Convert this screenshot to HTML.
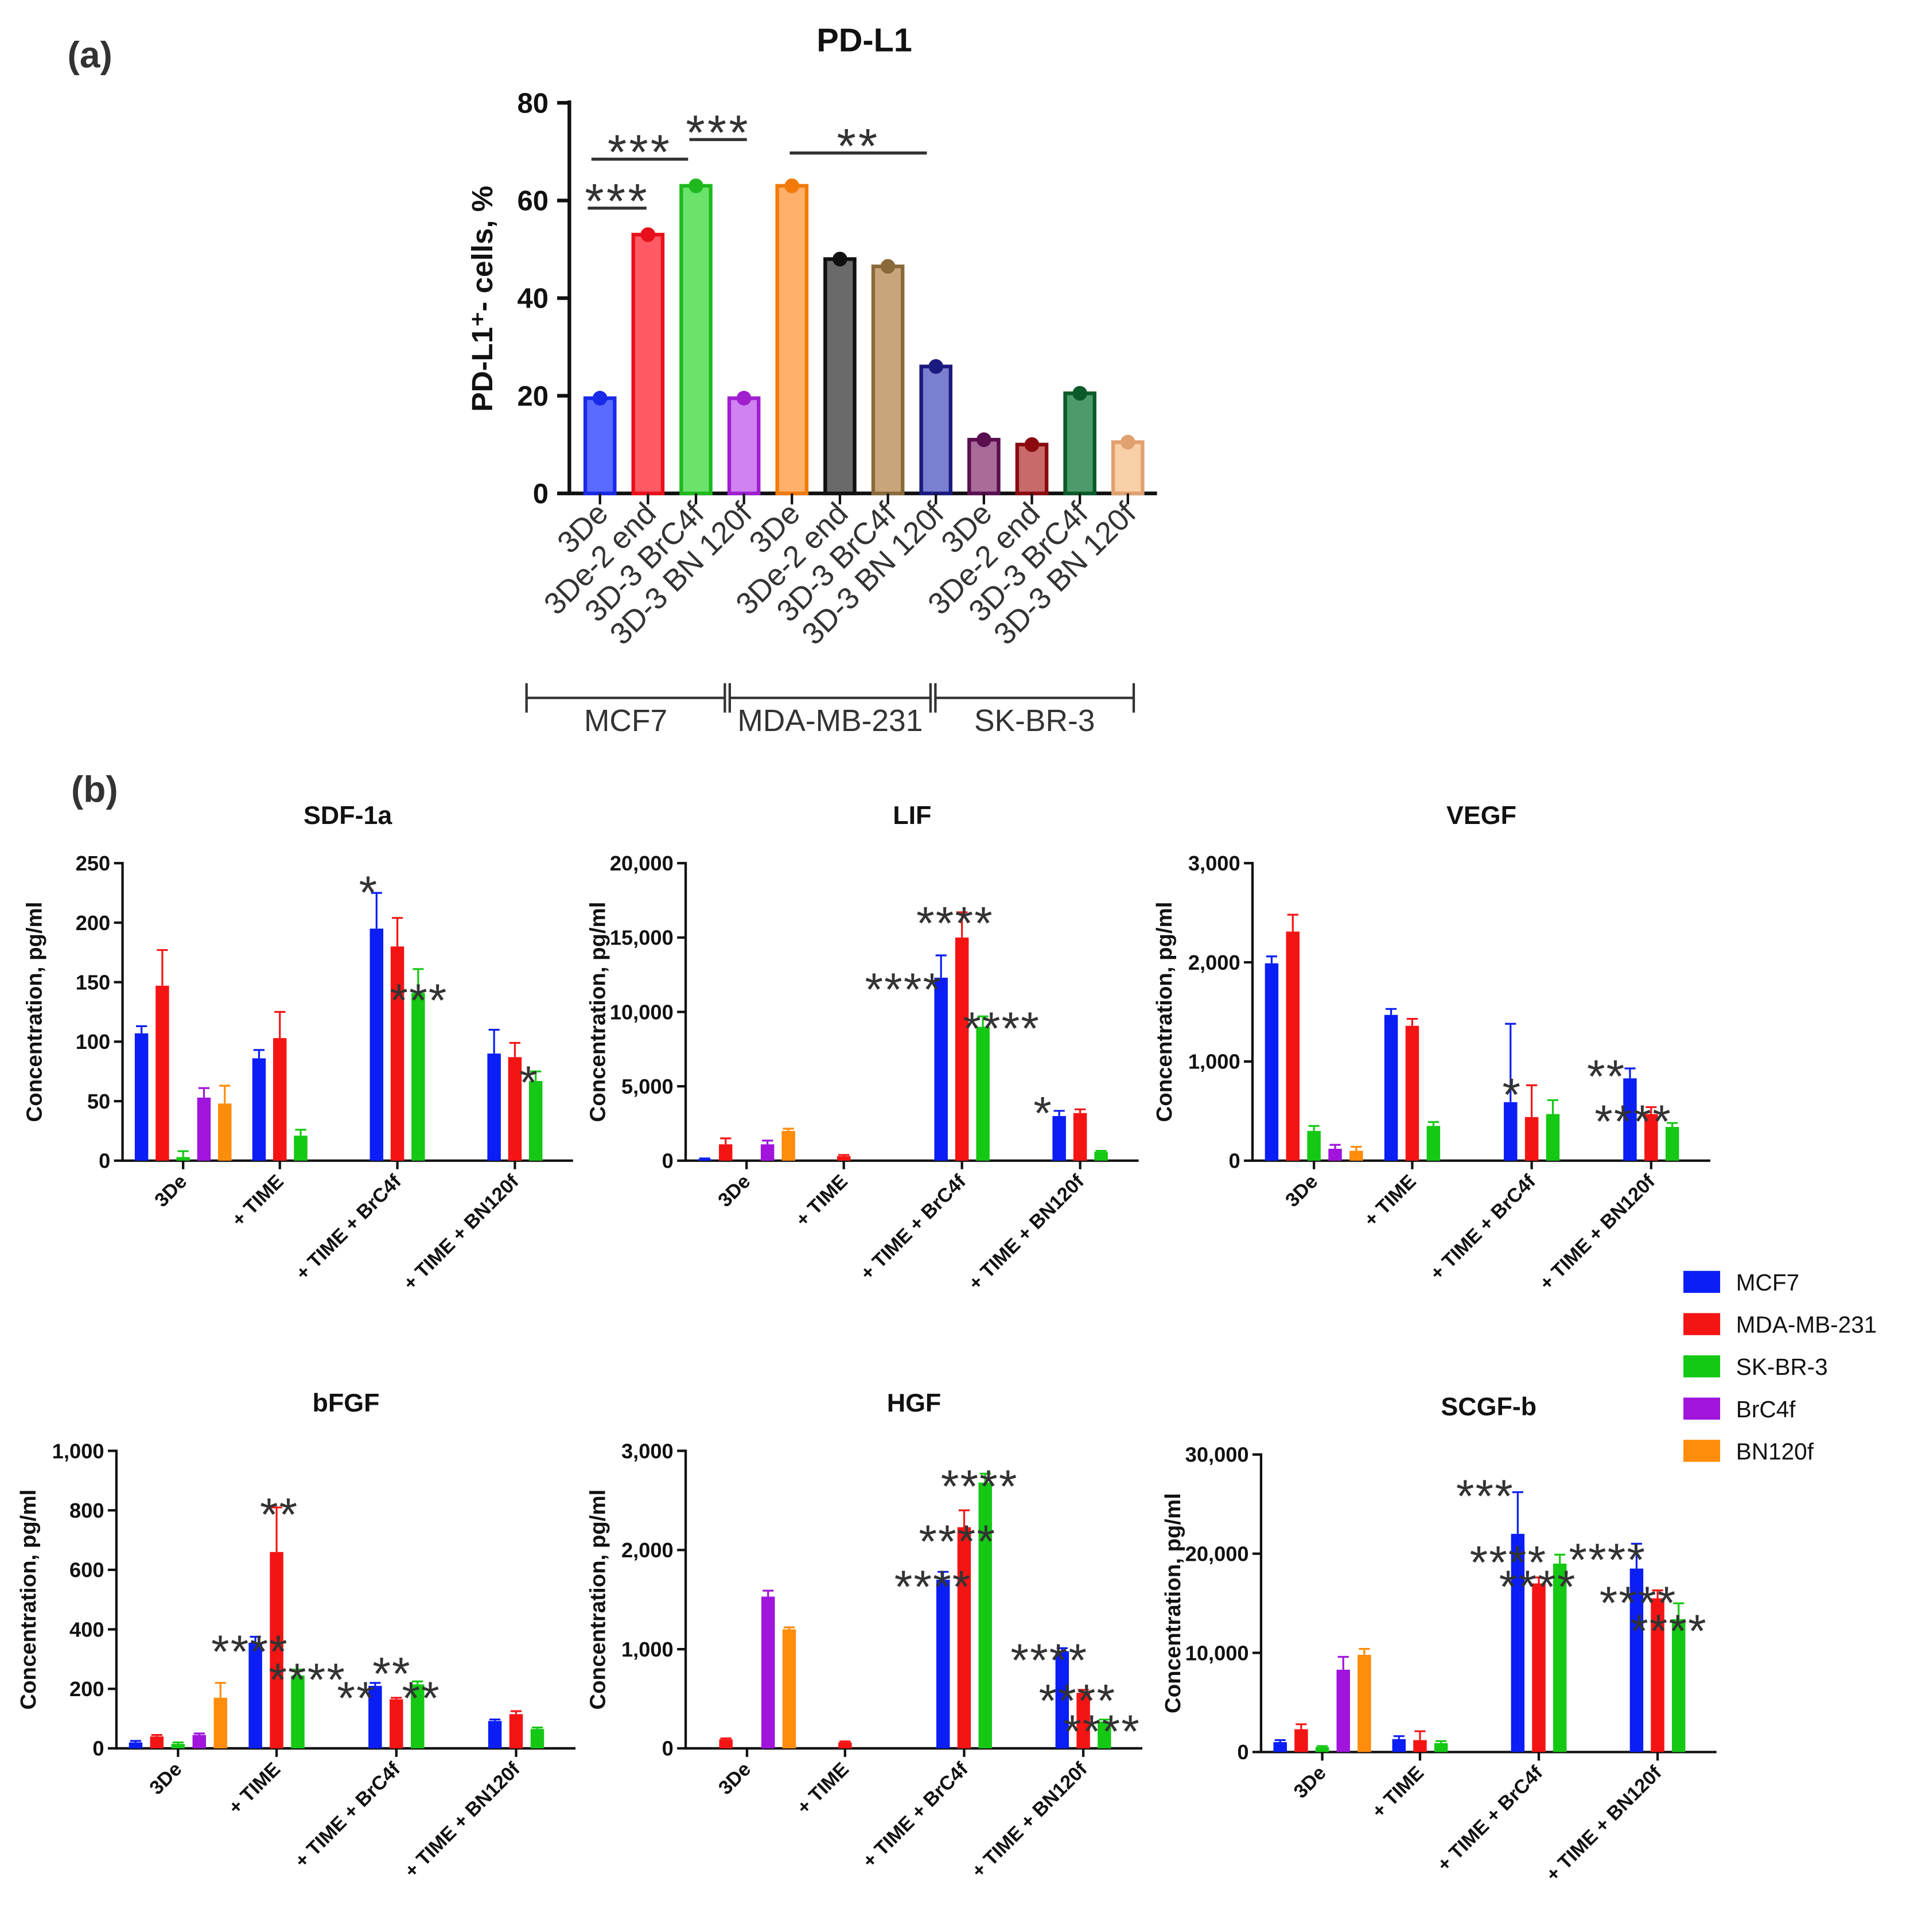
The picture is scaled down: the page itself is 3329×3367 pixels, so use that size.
<!DOCTYPE html>
<html><head><meta charset="utf-8"><style>
html,body{margin:0;padding:0;background:#fff}
svg{display:block}
text{font-family:"Liberation Sans",Arial,sans-serif}
</style></head><body>
<svg id="fig" width="3329" height="3367" viewBox="0 0 1560 1578" xmlns="http://www.w3.org/2000/svg">
<rect width="1560" height="1578" fill="#fff"/>
<text x="55" y="55" font-size="30" font-weight="bold" fill="#333">(a)</text>
<text x="58" y="655" font-size="30" font-weight="bold" fill="#333">(b)</text>
<g id="pa"></g>
<g id="pb"></g>
</svg>
<script>
const NS="http://www.w3.org/2000/svg";
function el(tag,attrs,parent,txt){const e=document.createElementNS(NS,tag);for(const k in attrs)e.setAttribute(k,attrs[k]);if(txt!==undefined)e.textContent=txt;parent.appendChild(e);return e;}
// ---- Panel (a) data ----
const pdCategories=["3De","3De-2 end","3D-3 BrC4f","3D-3 BN 120f","3De","3De-2 end","3D-3 BrC4f","3D-3 BN 120f","3De","3De-2 end","3D-3 BrC4f","3D-3 BN 120f"];
const pdValues=[19.5,53,63,19.5,63,48,46.5,26,11,10,20.5,10.5];
const pdTicks=[0,20,40,60,80];
const pdGroups=["MCF7","MDA-MB-231","SK-BR-3"];
const pdFill=["#5a6cff","#ff5a64","#6be36b","#d083f0","#ffb06a","#6a6a6a","#c9a57c","#7b7fcf","#a96b99","#c96a6a","#4d9a6a","#f8cfa6"];
const pdStroke=["#1a2ae8","#e8101c","#1fb81f","#a020d0","#f27a0a","#111","#8a6a3a","#1a1a80","#5a1050","#8a0a10","#0a5a2a","#e0a070"];
const pa=document.getElementById('pa');
const ay=v=>403-v*(403-84)/80, ax=i=>490+i*39.2;
el('text',{x:706,y:42,'font-size':27,'font-weight':'bold','text-anchor':'middle',fill:'#111'},pa,'PD-L1');
el('line',{x1:465,y1:82,x2:465,y2:404,stroke:'#111','stroke-width':3},pa);
el('line',{x1:464,y1:403,x2:945,y2:403,stroke:'#111','stroke-width':3},pa);
pdTicks.forEach(t=>{el('line',{x1:455,y1:ay(t),x2:465,y2:ay(t),stroke:'#111','stroke-width':3},pa);
 const tx=el('text',{x:448,y:ay(t)+8,'font-size':23,'font-weight':'bold','text-anchor':'end',fill:'#111'},pa,t);});
const yt=el('text',{transform:'translate(402,244) rotate(-90)','font-size':24,'font-weight':'bold','text-anchor':'middle',fill:'#111'},pa,'PD-L1⁺- cells, %');

pdValues.forEach((v,i)=>{const x=ax(i);
 const b=el('rect',{x:x-12,y:ay(v),width:24,height:403-ay(v),fill:pdFill[i],stroke:pdStroke[i],'stroke-width':3},pa);
 
 el('circle',{cx:x,cy:ay(v),r:6,fill:pdStroke[i]},pa);
 el('line',{x1:x,y1:403,x2:x,y2:412,stroke:'#111','stroke-width':2},pa);
 const l=el('text',{transform:`translate(${x+8},421) rotate(-45)`,'font-size':25,'text-anchor':'end',fill:'#333'},pa,pdCategories[i]);
 });
[[430,592],[596,760],[764,926]].forEach((r,i)=>{el('line',{x1:r[0],y1:570,x2:r[1],y2:570,stroke:'#333','stroke-width':2},pa);
 el('line',{x1:r[0],y1:558,x2:r[0],y2:582,stroke:'#333','stroke-width':2},pa);el('line',{x1:r[1],y1:558,x2:r[1],y2:582,stroke:'#333','stroke-width':2},pa);
 const g=el('text',{x:(r[0]+r[1])/2,y:597,'font-size':25,'text-anchor':'middle',fill:'#333'},pa,pdGroups[i]);});
[[480,528,170,'***'],[483,562,130,'***'],[563,610,114,'***'],[645,757,125,'**']].forEach(s=>{
 el('line',{x1:s[0],y1:s[2],x2:s[1],y2:s[2],stroke:'#333','stroke-width':2.5},pa);
 const t=el('text',{x:(s[0]+s[1])/2,y:s[2]+8,'font-size':40,'letter-spacing':2,'text-anchor':'middle',fill:'#333'},pa,s[3]);});
// ---- Panel (b) data ----
const groupLabels=["3De","+ TIME","+ TIME + BrC4f","+ TIME + BN120f"];
const seriesColors=["#0a1ef5","#f51414","#14c814","#a014dc","#ff8c0a"];
const seriesNames=["MCF7","MDA-MB-231","SK-BR-3","BrC4f","BN120f"];
const sdfValues=[[107,147,3,53,48],[86,103,21],[195,180,141],[90,87,67]];
const sdfErr=[[6,30,5,8,15],[7,22,5],[30,24,20],[20,12,8]];
const lifValues=[[100,1100,0,1100,2000],[0,300,0],[12300,15000,9000],[3000,3200,600]];
const lifErr=[[50,400,0,250,150],[0,80,0],[1500,1700,700],[350,250,60]];
const vegfValues=[[1990,2310,300,120,100],[1470,1360,350],[590,440,470],[830,470,340]];
const vegfErr=[[70,170,50,40,40],[60,70,40],[790,320,140],[100,70,40]];
const bfgfValues=[[20,40,15,45,170],[355,660,245],[210,165,215],[92,115,65]];
const bfgfErr=[[5,5,5,5,50],[20,150,20],[10,5,10],[5,10,5]];
const hgfValues=[[0,90,0,1530,1200],[0,60,0],[1700,2230,2680],[980,560,270]];
const hgfErr=[[0,10,0,60,20],[0,10,0],[80,170,90],[30,30,20]];
const scgfValues=[[1000,2300,500,8300,9800],[1300,1200,900],[22000,17000,19000],[18500,15500,13400]];
const scgfErr=[[200,500,100,1300,600],[300,900,200],[4200,600,900],[2500,800,1600]];
const sdfTicks=[0,50,100,150,200,250];
const lifTicks=[0,5000,10000,15000,20000];
const vegfTicks=[0,1000,2000,3000];
const bfgfTicks=[0,200,400,600,800,1000];
const hgfTicks=[0,1000,2000,3000];
const scgfTicks=[0,10000,20000,30000];
const charts=[
 {name:'sdf-1a',title:'SDF-1a',ax:100,xe:468,y0:948,yt:705,vals:sdfValues,err:sdfErr,ticks:sdfTicks,
  stars:[[301,725,'*'],[342,813,'***'],[432,880,'*']]},
 {name:'lif',title:'LIF',ax:560,xe:930,y0:948,yt:705,vals:lifValues,err:lifErr,ticks:lifTicks,
  stars:[[780,750,'****'],[738,804,'****'],[818,836,'****'],[852,905,'*']]},
 {name:'vegf',title:'VEGF',ax:1023,xe:1397,y0:948,yt:705,vals:vegfValues,err:vegfErr,ticks:vegfTicks,
  stars:[[1235,890,'*'],[1312,875,'**'],[1334,912,'****']]},
 {name:'bfgf',title:'bFGF',ax:95,xe:470,y0:1428,yt:1185,vals:bfgfValues,err:bfgfErr,ticks:bfgfTicks,
  stars:[[228,1233,'**'],[204,1345,'****'],[251,1368,'****'],[320,1363,'**'],[291,1383,'**'],[344,1383,'**']]},
 {name:'hgf',title:'HGF',ax:560,xe:933,y0:1428,yt:1185,vals:hgfValues,err:hgfErr,ticks:hgfTicks,
  stars:[[800,1210,'****'],[782,1255,'****'],[762,1292,'****'],[857,1352,'****'],[880,1385,'****'],[900,1410,'****']]},
 {name:'scgf-b',title:'SCGF-b',ax:1030,xe:1402,y0:1431,yt:1188,vals:scgfValues,err:scgfErr,ticks:scgfTicks,
  stars:[[1213,1218,'***'],[1232,1272,'****'],[1313,1270,'****'],[1256,1292,'****'],[1338,1305,'****'],[1363,1328,'****']]}
];
const pb=document.getElementById('pb');
function fmt(n){return n.toLocaleString('en-US');}
charts.forEach(c=>{
 const g=el('g',{},pb);
 const max=c.ticks[c.ticks.length-1];const sy=v=>c.y0-v*(c.y0-c.yt)/max;const sc=(c.xe-c.ax)/368;
 const t=el('text',{x:(c.ax+c.xe)/2,y:c.yt-32,'font-size':21,'font-weight':'bold','text-anchor':'middle',fill:'#111'},g,c.title);
 
 el('line',{x1:c.ax,y1:c.yt-1,x2:c.ax,y2:c.y0+1,stroke:'#111','stroke-width':2},g);
 el('line',{x1:c.ax,y1:c.y0,x2:c.xe,y2:c.y0,stroke:'#111','stroke-width':2},g);
 c.ticks.forEach(tk=>{el('line',{x1:c.ax-7,y1:sy(tk),x2:c.ax,y2:sy(tk),stroke:'#111','stroke-width':2},g);
  const l=el('text',{x:c.ax-10,y:sy(tk)+6,'font-size':17,'font-weight':'bold','text-anchor':'end',fill:'#111'},g,fmt(tk));
  });
 const yl=el('text',{transform:`translate(${c.ax-66},${(c.y0+c.yt)/2}) rotate(-90)`,'font-size':18,'font-weight':'bold','text-anchor':'middle',fill:'#111'},g,'Concentration, pg/ml');
 
 c.vals.forEach((grp,gi)=>{const gs=c.ax+10*sc+gi*96*sc;
  grp.forEach((v,si)=>{const x=gs+si*17*sc;
   const e=c.err[gi][si];
   if(e>0){el('line',{x1:x+5.5,y1:sy(v),x2:x+5.5,y2:sy(v+e),stroke:seriesColors[si],'stroke-width':1.5},g);
    el('line',{x1:x+1,y1:sy(v+e),x2:x+10,y2:sy(v+e),stroke:seriesColors[si],'stroke-width':1.5},g);}
   const b=el('rect',{x:x,y:sy(v),width:11,height:Math.max(0,c.y0-sy(v)),fill:seriesColors[si]},g);
   });
  const cx=gs+(grp.length-1)*17*sc/2+5.5;
  el('line',{x1:cx,y1:c.y0,x2:cx,y2:c.y0+7,stroke:'#111','stroke-width':2},g);
  const xl=el('text',{transform:`translate(${cx+4},${c.y0+18}) rotate(-45)`,'font-size':16,'font-weight':'bold','text-anchor':'end',fill:'#111'},g,groupLabels[gi]);
  });
 c.stars.forEach(s=>{const st=el('text',{x:s[0],y:s[1]+17,'font-size':38,'letter-spacing':1,'text-anchor':'middle',fill:'#333'},g,s[2]);
  });
});
seriesNames.forEach((n,i)=>{const y=1038+i*34.5;
 const r=el('rect',{x:1375,y:y,width:30,height:18,fill:seriesColors[i]},pb);
 const t=el('text',{x:1418,y:y+16,'font-size':19,fill:'#111'},pb,n);});
</script>
</body></html>
